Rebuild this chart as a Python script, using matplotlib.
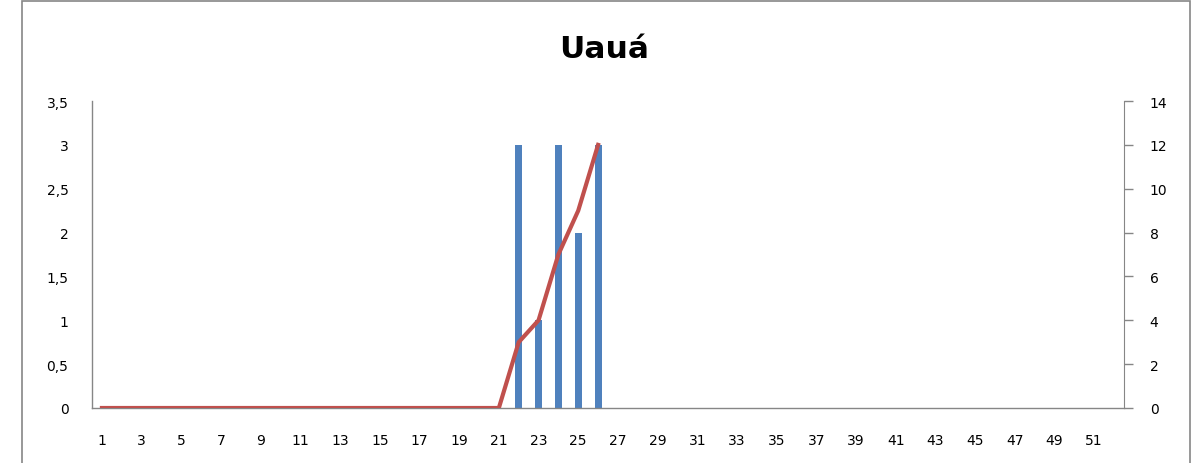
import matplotlib
matplotlib.use("Agg")
import matplotlib.pyplot as plt
from matplotlib.patches import Rectangle
import numpy as np

weeks = list(range(1, 53))
cases = [0]*21 + [3, 1, 3, 2, 3] + [0]*26
cumulative = [0]*21 + [3, 4, 7, 9, 12]
left_ticks = [0, 0.5, 1, 1.5, 2, 2.5, 3, 3.5]
left_labels = ["0", "0,5", "1", "1,5", "2", "2,5", "3", "3,5"]
right_ticks = [0, 2, 4, 6, 8, 10, 12, 14]

W, H = 1198, 464
fig = plt.figure(figsize=(W/100, H/100), dpi=100)
plt.rcParams['font.family'] = ['DejaVu Sans']

# outer chart border
fig.patches.append(Rectangle((22/W, -0.1), (1190-22)/W, 1.1 - 2/H, transform=fig.transFigure,
                             fill=False, edgecolor='#868686', linewidth=1.2))

ax = fig.add_axes([92/W, 1-409/H, (1124-92)/W, (409-102)/H])
x = np.arange(len(weeks))
ax.bar(x, cases, width=0.35, color='#4F81BD', zorder=2)
ax.set_xlim(-0.5, len(weeks)-0.5)
ax.set_ylim(0, 3.5)
ax.set_yticks(left_ticks)
ax.set_yticklabels(left_labels)
ax.set_xticks(x[::2])
ax.set_xticklabels([str(w) for w in weeks[::2]])
ax.tick_params(axis='both', length=0, labelsize=10, colors='#000000')
ax.tick_params(axis='y', pad=17)
ax.tick_params(axis='x', pad=18)
for s in ['top', 'right']:
    ax.spines[s].set_visible(False)
for s in ['left', 'bottom']:
    ax.spines[s].set_color('#868686')
    ax.spines[s].set_linewidth(1.0)

ax2 = ax.twinx()
ax2.plot(x[:len(cumulative)], cumulative, color='#C0504D', linewidth=3.0, zorder=3)
ax2.set_ylim(0, 14)
ax2.set_yticks(right_ticks)
ax2.tick_params(axis='y', length=6.5, width=1.0, color='#868686', labelsize=10, pad=12)
for s in ['top', 'left', 'bottom']:
    ax2.spines[s].set_visible(False)
ax2.spines['right'].set_color('#868686')

fig.text(604/W, 1-58/H, "Uauá", ha='center', va='baseline', fontsize=22.5, fontweight='bold')

fig.savefig("out.png", dpi=100)
